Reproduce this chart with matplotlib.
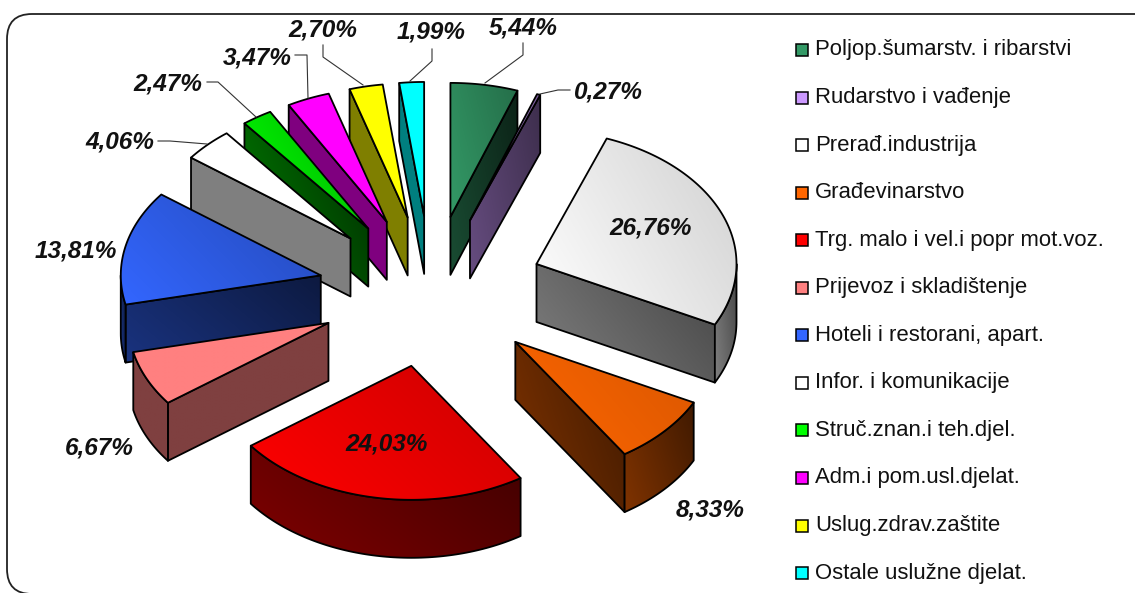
import matplotlib
matplotlib.use('Agg')
import matplotlib.pyplot as plt
import numpy as np
from matplotlib.colors import to_rgb
from matplotlib.patches import FancyBboxPatch, Polygon, Rectangle

plt.rcParams['font.family'] = ['Liberation Sans', 'DejaVu Sans']

categories = ['Poljop.šumarstv. i ribarstvi', 'Rudarstvo i vađenje', 'Prerađ.industrija',
              'Građevinarstvo', 'Trg. malo i vel.i popr mot.voz.', 'Prijevoz i skladištenje',
              'Hoteli i restorani, apart.', 'Infor. i komunikacije', 'Struč.znan.i teh.djel.',
              'Adm.i pom.usl.djelat.', 'Uslug.zdrav.zaštite', 'Ostale uslužne djelat.']
values = [5.44, 0.27, 26.76, 8.33, 24.03, 6.67, 13.81, 4.06, 2.47, 3.47, 2.70, 1.99]

colors = ['#339966', '#cc99ff', '#ffffff', '#ff6600', '#ff0000', '#ff8080',
          '#3366ff', '#ffffff', '#00ff00', '#ff00ff', '#ffff00', '#00ffff']
# how dark the far (top right) end of each gradient gets
fade = [0.72, 0.6, 0.82, 0.85, 0.8, 1.0, 0.72, 1.0, 0.7, 1.0, 1.0, 1.0]
wall_fade = [0.45, 0.6, 0.55, 0.5, 0.5, 1.0, 0.5, 1.0, 0.35, 1.0, 1.0, 1.0]

# label centre, then leader line points (none for labels next to the slice)
label_pos = [(523, 28), (608, 92), (651, 228), (710, 510), (387, 444), (99, 448),
             (76, 251), (120, 142), (168, 84), (257, 58), (323, 30), (431, 32)]
leaders = [[(523, 43), (523, 55), (485, 83)],
           [(570, 90), (558, 90), (540, 94)],
           None, None, None, None, None,
           [(158, 141), (170, 141), (207, 144)],
           [(207, 82), (218, 82), (256, 117)],
           [(295, 55), (307, 55), (308, 98)],
           [(323, 45), (323, 57), (363, 85)],
           [(432, 49), (432, 61), (410, 81)]]

cx, cy = 431.2, 291.4
rx, ry = 200, 134
ex, ey = 113, 75.6
depth = 58

fig = plt.figure(figsize=(11.35, 5.93), dpi=100)
ax = fig.add_axes([0, 0, 1, 1])
ax.set_xlim(0, 1135)
ax.set_ylim(593, 0)
ax.axis('off')

ax.add_patch(FancyBboxPatch((7, 14), 1250, 580, boxstyle='round,pad=0,rounding_size=25',
                            fc='white', ec='#222222', lw=1.3, zorder=0))


def arc(x0, y0, a, b):
    t = np.radians(np.linspace(a, b, max(int(abs(b - a)), 1) + 1))
    return np.column_stack([x0 + rx * np.sin(t), y0 - ry * np.cos(t)])


def face(pts, color, end, z):
    # gradient runs mostly left to right, a little bottom to top
    pts = np.asarray(pts)
    x0, y0 = pts.min(axis=0)
    x1, y1 = pts.max(axis=0)
    u, v = np.meshgrid(np.linspace(0, 1, 64), np.linspace(1, 0, 64))
    k = 1 - (1 - end) * (0.65 * u + 0.35 * v)
    img = np.dstack([np.array(to_rgb(color))[i] * k for i in range(3)])
    im = ax.imshow(img, extent=(x0, x1, y1, y0), aspect='auto', interpolation='bilinear',
                   zorder=z)
    poly = Polygon(pts, closed=True, fc='none', ec='black', lw=1.3, joinstyle='round', zorder=z + 0.5)
    ax.add_patch(poly)
    im.set_clip_path(poly)


edges = np.concatenate([[0], np.cumsum(values)]) / sum(values) * 360
apex = []
for i in range(len(values)):
    mid = np.radians((edges[i] + edges[i + 1]) / 2)
    apex.append((cx + ex * np.sin(mid), cy - ey * np.cos(mid)))

# slices further back are drawn first
order = sorted(range(len(values)), key=lambda n: apex[n][1])
for n, i in enumerate(order):
    a, b = edges[i], edges[i + 1]
    x0, y0 = apex[i]
    z = 1 + n * 3
    wall = tuple(c * 0.5 for c in to_rgb(colors[i]))
    rim = arc(x0, y0, a, b)

    if np.sin(np.radians(a)) < 0:
        p = rim[0]
        face([(x0, y0), p, p + (0, depth), (x0, y0 + depth)], wall, wall_fade[i], z)
    if np.sin(np.radians(b)) > 0:
        p = rim[-1]
        face([(x0, y0), p, p + (0, depth), (x0, y0 + depth)], wall, wall_fade[i], z)
    lo, hi = max(a, 90), min(b, 270)
    if lo < hi:
        top = arc(x0, y0, lo, hi)
        face(np.vstack([top, top[::-1] + (0, depth)]), wall, wall_fade[i], z + 1)
    face(np.vstack([[(x0, y0)], rim]), colors[i], fade[i], z + 2)

for i, v in enumerate(values):
    ax.text(label_pos[i][0], label_pos[i][1], f'{v:.2f}'.replace('.', ',') + '%', fontsize=17.6,
            fontweight='bold', fontstyle='italic', color='#111111', ha='center', va='center', zorder=100)
    if leaders[i]:
        xs, ys = zip(*leaders[i])
        ax.plot(xs, ys, color='#333333', lw=0.8, zorder=99)

for i, name in enumerate(categories):
    y = 49 + i * 47.55
    ax.add_patch(Rectangle((796, y - 5), 12, 12, fc=colors[i], ec='black', lw=1.1, zorder=100))
    ax.text(815, y + 1, name, fontsize=15.9, color='#111111', va='center', ha='left', zorder=100)

ax.set_xlim(0, 1135)
ax.set_ylim(593, 0)
fig.savefig('out.png', dpi=100)
